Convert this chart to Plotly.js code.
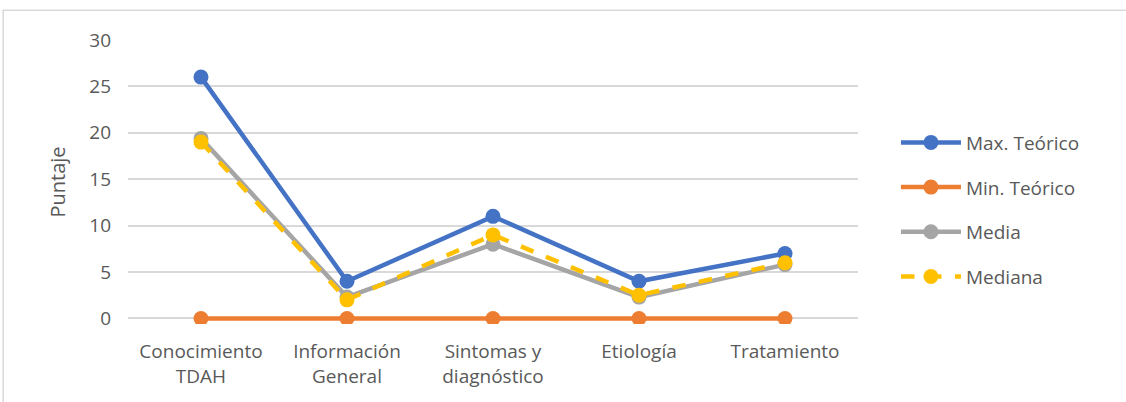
<!DOCTYPE html>
<html>
<head>
<meta charset="utf-8">
<script src="https://cdn.plot.ly/plotly-3.0.1.min.js"></script>
<style>html,body{margin:0;padding:0;background:#fff;}#chart{width:1126px;height:402px;}</style>
</head>
<body>
<div id="chart"></div>
<script>
const categories = ["Conocimiento<br>TDAH", "Información<br>General", "Sintomas y<br>diagnóstico", "Etiología", "Tratamiento"];
const maxTeorico = [26, 4, 11, 4, 7];
const minTeorico = [0, 0, 0, 0, 0];
const media = [19.4, 2.3, 8.0, 2.3, 5.8];
const mediana = [19, 2, 9, 2.5, 6];
const yTicks = [0, 5, 10, 15, 20, 25, 30];

const font = {family: "Open Sans, Noto Sans, sans-serif", color: "#595959"};

function tr(name, y, color, dash, group) {
  return {
    type: "scatter", mode: "lines+markers", name: name, x: categories, y: y,
    legendgroup: group,
    line: {color: color, width: 4.5, dash: dash || "solid"},
    marker: {color: color, size: 15}
  };
}

const data = [
  tr("Max. Teórico", maxTeorico, "#4472C4", null, "a"),
  tr("Min. Teórico", minTeorico, "#ED7D31", null, "b"),
  tr("Media", media, "#A5A5A5", null, "c"),
  tr("Mediana", mediana, "#FFC000", "dash", "d")
];

const layout = {
  width: 1126, height: 402,
  margin: {l: 128, r: 268, t: 40, b: 78},
  paper_bgcolor: "#fff", plot_bgcolor: "#fff",
  font: Object.assign({size: 19}, font),
  showlegend: true,
  legend: {x: 1.052, y: 0.403, yanchor: "middle", xanchor: "left", font: Object.assign({size: 19}, font),
           tracegroupgap: 17, itemwidth: 60, bgcolor: "rgba(0,0,0,0)"},
  xaxis: {type: "category", range: [-0.5, 4.5], showgrid: false, zeroline: false, showline: false,
          tickfont: Object.assign({size: 19}, font), ticks: "", automargin: false, ticklabelstandoff: 14},
  yaxis: {range: [-0.6, 30], tickvals: yTicks, showgrid: true, gridcolor: "#D9D9D9", gridwidth: 1.5,
          zeroline: false, showline: false, ticks: "", ticklen: 0,
          tickfont: Object.assign({size: 19}, font), automargin: false, ticklabelstandoff: 16,
          title: {text: "Puntaje", font: Object.assign({size: 20}, font), standoff: 18}},
  shapes: [{type: "rect", xref: "paper", yref: "paper", x0: -0.171, x1: 1.4, y0: -0.313, y1: 1.105,
            line: {color: "#D9D9D9", width: 1.5}, fillcolor: "rgba(0,0,0,0)"}]
};

Plotly.newPlot("chart", data, layout, {displayModeBar: false});
</script>
</body>
</html>
